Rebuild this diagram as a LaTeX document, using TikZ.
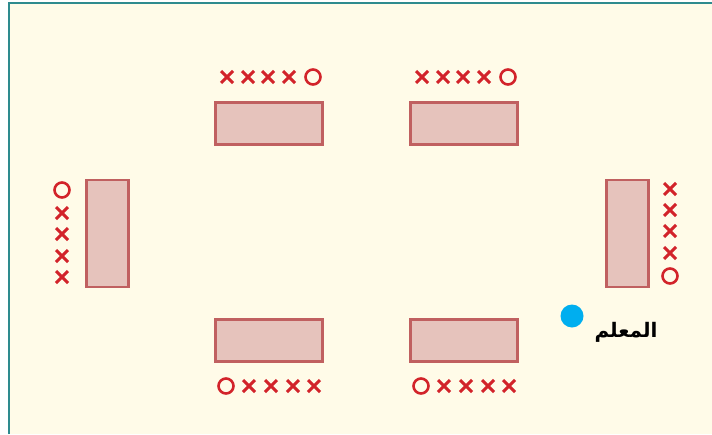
\documentclass[tikz,border=0pt]{standalone}
\usepackage{fontspec}
\newfontfamily\arabicfont[Script=Arabic]{DejaVu Sans}
\TeXXeTstate=1
\definecolor{bgc}{HTML}{FFFBE8}
\definecolor{framec}{HTML}{2E8B8E}
\definecolor{tfill}{HTML}{E6C3BC}
\definecolor{tdraw}{HTML}{C06060}
\definecolor{symc}{HTML}{D2232A}
\definecolor{dotc}{HTML}{00AEEF}
\tikzset{
  tablebox/.style={draw=tdraw, fill=tfill, line width=2.2pt},
  xmark/.style={draw=symc, line width=3pt},
  omark/.style={draw=symc, line width=2.6pt},
}
\newcommand{\xm}[2]{\draw[xmark] (#1-6,#2-6) -- (#1+6,#2+6) (#1-6,#2+6) -- (#1+6,#2-6);}
\newcommand{\om}[2]{\draw[omark] (#1,#2) circle (7.5);}
\begin{document}
\begin{tikzpicture}[x=1pt,y=-1pt]
\useasboundingbox (0,0) rectangle (712,434);
\fill[white] (0,0) rectangle (712,434);
\fill[bgc] (9,3) rectangle (712,434);
\draw[framec, line width=2.4pt] (9,434) -- (9,3) -- (712,3);
% tables
\node[tablebox, minimum width=107pt, minimum height=42pt, inner sep=0pt] (t1) at (269,123.5) {};
\node[tablebox, minimum width=107pt, minimum height=42pt, inner sep=0pt] (t2) at (464,123.5) {};
\node[tablebox, minimum width=107pt, minimum height=42pt, inner sep=0pt] (t3) at (269,340.5) {};
\node[tablebox, minimum width=107pt, minimum height=42pt, inner sep=0pt] (t4) at (464,340.5) {};
\node[tablebox, minimum width=42pt, minimum height=107pt, inner sep=0pt] (t5) at (107.5,233.5) {};
\node[tablebox, minimum width=42pt, minimum height=107pt, inner sep=0pt] (t6) at (627.5,233.5) {};
% top-left symbols
\xm{227}{77}\xm{248}{77}\xm{268}{77}\xm{289}{77}\om{313}{77}
% top-right
\xm{422}{77}\xm{443}{77}\xm{463}{77}\xm{484}{77}\om{508}{77}
% bottom-left
\om{226}{386}\xm{249}{386}\xm{271}{386}\xm{293}{386}\xm{314}{386}
% bottom-right
\om{421}{386}\xm{444}{386}\xm{466}{386}\xm{488}{386}\xm{509}{386}
% left
\om{62}{190}\xm{62}{213}\xm{62}{234}\xm{62}{256}\xm{62}{277}
% right
\xm{670}{189}\xm{670}{210}\xm{670}{231}\xm{670}{253}\om{670}{276}
% teacher
\fill[dotc] (572,316) circle (11.5);
\node[inner sep=0pt] (teacher) at (626,332) {\arabicfont\bfseries\fontsize{20}{24}\selectfont\beginR المعلم\endR};
\end{tikzpicture}
\end{document}
